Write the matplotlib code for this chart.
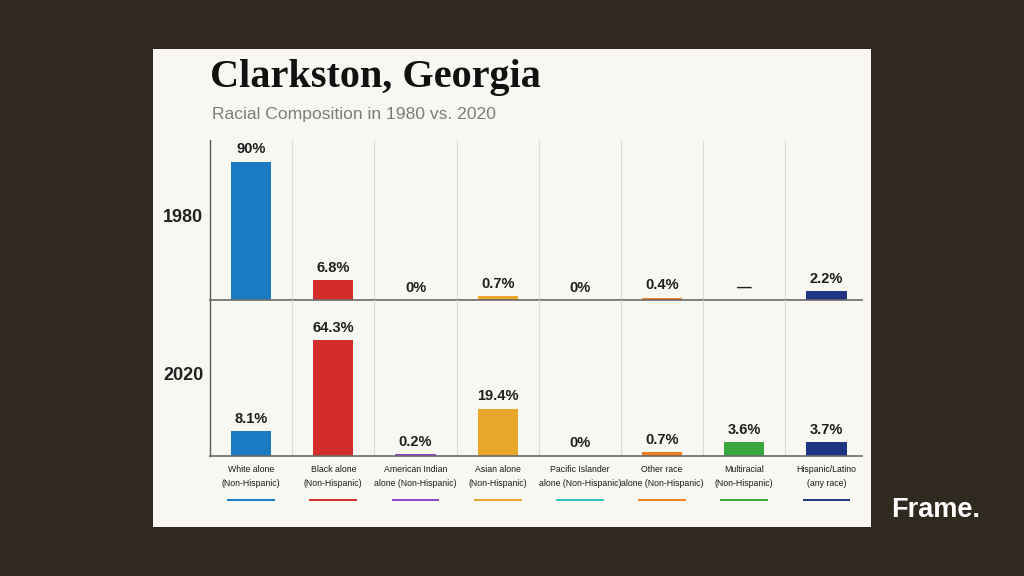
import numpy as np
import matplotlib
matplotlib.use("Agg")
import matplotlib.pyplot as plt
from matplotlib import transforms
from matplotlib.patches import Rectangle

# ---------------- data ----------------
categories_line1 = ["White alone", "Black alone", "American Indian", "Asian alone",
                    "Pacific Islander", "Other race", "Multiracial", "Hispanic/Latino"]
categories_line2 = ["(Non-Hispanic)", "(Non-Hispanic)", "alone (Non-Hispanic)", "(Non-Hispanic)",
                    "alone (Non-Hispanic)", "alone (Non-Hispanic)", "(Non-Hispanic)", "(any race)"]
values_1980 = [90, 6.8, 0, 0.7, 0, 0.4, np.nan, 2.2]
values_2020 = [8.1, 64.3, 0.2, 19.4, 0, 0.7, 3.6, 3.7]
years = ["1980", "2020"]
colors = ["#1b7bc2", "#d22c2b", "#8f45c6", "#e8a62a", "#2fc3c6", "#ef7e1e", "#38a83e", "#1f3583"]

title = "Clarkston, Georgia"
subtitle = "Racial Composition in 1980 vs. 2020"
brand = "Frame."

# ---------------- style ----------------
BG = "#2f2920"
CARD = "#f9f7f2"
W, H = 1024, 576

fig = plt.figure(figsize=(W / 100, H / 100), dpi=100, facecolor=BG)

def fx(px):
    return px / W

def fy(py):
    return 1 - py / H

# card
card = Rectangle((fx(153), fy(527)), fx(871) - fx(153), fy(49) - fy(527),
                 transform=fig.transFigure, facecolor=CARD, edgecolor="none", zorder=-5)
fig.patches.append(card)

p = 0.75
def fwd(y):
    y = np.asarray(y, dtype=float)
    return np.sign(y) * np.abs(y) ** p

def inv(y):
    y = np.asarray(y, dtype=float)
    return np.sign(y) * np.abs(y) ** (1 / p)

left_px, right_px = 210, 867.6
ax1 = fig.add_axes([fx(left_px), fy(300), fx(right_px) - fx(left_px), fy(140) - fy(300)])
ax2 = fig.add_axes([fx(left_px), fy(455.7), fx(right_px) - fx(left_px), fy(300) - fy(455.7)])

x = np.arange(len(categories_line1))

def fmt(v):
    if np.isnan(v):
        return "\u2014"
    if float(v).is_integer():
        return f"{v:.0f}%"
    return f"{v:.1f}%"

SANS = ["Liberation Sans", "DejaVu Sans"]

for ax, vals, ytop in [(ax1, values_1980, 109.3), (ax2, values_2020, 95.5)]:
    ax.set_facecolor("none")
    ax.set_yscale("function", functions=(fwd, inv))
    ax.set_xlim(-0.5, len(x) - 0.5)
    ax.set_ylim(0, ytop)
    for s in ["top", "right", "bottom"]:
        ax.spines[s].set_visible(False)
    ax.spines["left"].set_color("#5a5a5a")
    ax.spines["left"].set_linewidth(1.0)
    ax.set_xticks([])
    ax.set_yticks([])
    ax.minorticks_off()
    for xv in x[:-1] + 0.5:
        ax.axvline(xv, color="#dddbd6", lw=0.8, zorder=0)
    vv = np.nan_to_num(np.array(vals, dtype=float), nan=0.0)
    ax.bar(x, vv, width=0.49, color=colors, zorder=2)
    ax.axhline(0, xmin=0, xmax=(862 - left_px) / (right_px - left_px),
               color="#6a6a6a", lw=1.2, zorder=3, clip_on=False)
    for xi, v in zip(x, vals):
        base = 0 if np.isnan(v) else v
        ax.annotate(fmt(v), xy=(xi, base), xytext=(0, 3.8), textcoords="offset points",
                    ha="center", va="bottom", fontsize=10.5, fontweight="bold",
                    family=SANS, color="#1e1e1e", zorder=4)

# year labels
fig.text(fx(183), fy(218), years[0], ha="center", va="center", fontsize=13,
         fontweight="bold", family=SANS, color="#222222")
fig.text(fx(183), fy(375), years[1], ha="center", va="center", fontsize=13,
         fontweight="bold", family=SANS, color="#222222")

# category labels and colored keys
bt = transforms.blended_transform_factory(ax2.transData, fig.transFigure)
for xi, l1, l2, c in zip(x, categories_line1, categories_line2, colors):
    ax2.text(xi, fy(469), l1, transform=bt, ha="center", va="center", fontsize=6.3,
             family=SANS, color="#1a1a1a")
    ax2.text(xi, fy(484), l2, transform=bt, ha="center", va="center", fontsize=6.3,
             family=SANS, color="#1a1a1a")
    ax2.plot([xi - 0.29, xi + 0.29], [fy(500), fy(500)], transform=bt, color=c,
             lw=1.4, clip_on=False, solid_capstyle="butt")

# titles
fig.text(fx(210), fy(78), title, ha="left", va="center", fontsize=29, fontweight="bold",
         family=["Liberation Serif", "DejaVu Serif"], color="#111111")
fig.text(fx(212), fy(115), subtitle, ha="left", va="center", fontsize=12.6,
         family=SANS, color="#7c7c7c")

# brand
fig.text(fx(891), fy(510), brand, ha="left", va="center", fontsize=19.5, fontweight="bold",
         family=SANS, color="#ffffff")

fig.savefig("out.png", dpi=100, facecolor=BG)
